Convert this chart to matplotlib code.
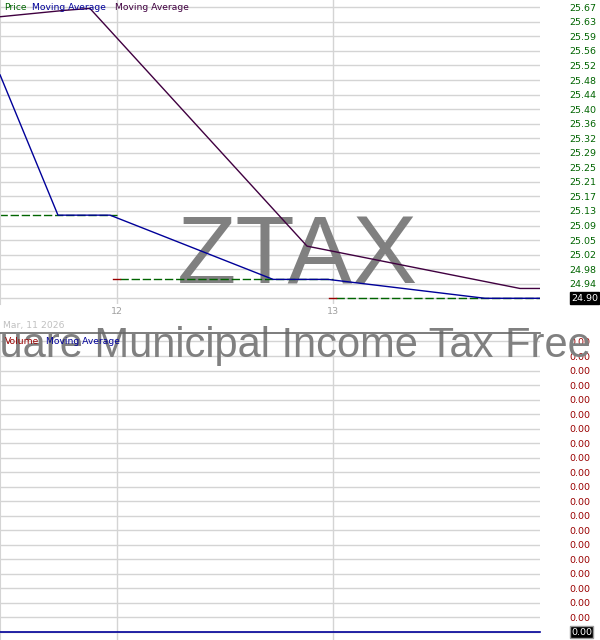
import numpy as np
import matplotlib
matplotlib.use("Agg")
import matplotlib.pyplot as plt
import matplotlib.transforms as mtransforms

# ---- data ----
price_days = [11, 12, 13]
price_close = [25.12, 24.95, 24.90]

ma1_days = [11.461, 11.729, 11.970, 12.725, 12.979, 13.706, 13.961]
ma1_vals = [25.491, 25.120, 25.120, 24.950, 24.950, 24.900, 24.900]

ma2_days = [11.461, 11.762, 11.877, 12.882, 13.868, 13.961]
ma2_vals = [25.645, 25.662, 25.667, 25.038, 24.926, 24.926]

vol_days = [11.461, 12, 13, 13.961]
vol_ma = [0.0, 0.0, 0.0, 0.0]

price_labels = ['24.90', '24.94', '24.98', '25.02', '25.05', '25.09', '25.13',
                '25.17', '25.21', '25.25', '25.29', '25.32', '25.36', '25.40',
                '25.44', '25.48', '25.52', '25.56', '25.59', '25.63', '25.67']
vol_labels = ['0.00'] * 21
day_ticks = [12, 13]
day_labels = ['12', '13']

ticker = 'ZTAX'
fund_name = 'X-Square Municipal Income Tax Free ETF'
date_label = 'Mar, 11 2026'

# ---- colours ----
GRID = '#d4d4d4'
GREEN = '#006400'
DRED = '#990000'
BLUE = '#000099'
PURPLE = '#400040'
WM = '#808080'

W, H = 600, 640
fig = plt.figure(figsize=(6, 6.4), dpi=100)


def fx(px):
    return px / W


def fy(py):
    return 1 - py / H


# price panel: pixels 0..540 wide, 0..304 tall
ax = fig.add_axes([0, fy(304), fx(540), 304 / H])
# volume panel: pixels 333..640
ax2 = fig.add_axes([0, 0, fx(540), 307 / H])

xlo, xhi = 11.4606, 13.9606
for a in (ax, ax2):
    a.set_xlim(xlo, xhi)
    a.set_axisbelow(True)
    for s in a.spines.values():
        s.set_visible(False)
    a.spines['left'].set_visible(True)
    a.spines['left'].set_color(GRID)
    a.set_xticks(day_ticks)
    a.grid(True, color=GRID, lw=1.0)
    a.yaxis.tick_right()
    a.tick_params(length=0)

# price axis
ax.set_ylim(24.8849, 25.6893)
ax.set_yticks(np.linspace(24.90, 25.67, 21))
ax.set_yticklabels(price_labels)
ax.tick_params(axis='y', colors=GREEN, labelsize=6.8, pad=21)
ax.set_xticklabels(day_labels)
ax.tick_params(axis='x', colors='#a0a0a0', labelsize=6.8, pad=2)

# price: red tick at day start, green dashed through the day
tw = 0.016
for d, c in zip(price_days, price_close):
    ax.plot([d + tw, d + 1], [c, c], color=GREEN, lw=1.0, ls=(0, (6, 2)), zorder=2)
    ax.plot([d - tw, d + tw], [c, c], color=DRED, lw=1.0, zorder=2)

ax.plot(ma1_days, ma1_vals, color=BLUE, lw=1.0, zorder=3)
ax.plot(ma2_days, ma2_vals, color=PURPLE, lw=1.0, zorder=3)

# watermark ticker
ax.text(297.5 / 540, 1 - 283 / 304, ticker, transform=ax.transAxes,
        ha='center', va='baseline', fontsize=70, color=WM,
        family='Liberation Sans', zorder=1.5)

# legend text
lx = ax.transAxes
ax.text(4 / 540, 1 - 9.5 / 304, 'Price', color=GREEN, fontsize=6.6,
        transform=lx, va='baseline', zorder=4)
ax.text(32.5 / 540, 1 - 9.5 / 304, 'Moving Average', color=BLUE, fontsize=6.6,
        transform=lx, va='baseline', zorder=4)
ax.text(115 / 540, 1 - 9.5 / 304, 'Moving Average', color=PURPLE, fontsize=6.6,
        transform=lx, va='baseline', zorder=4)

# last price box
trans = mtransforms.blended_transform_factory(ax.transAxes, ax.transData)
ax.text(571 / 540, price_close[-1], price_labels[0], transform=trans,
        ha='left', va='center', fontsize=6.8, color='white', clip_on=False,
        bbox=dict(boxstyle='square,pad=0.15', fc='black', ec='black'), zorder=5)

# volume axis
ax2.set_ylim(-0.00011, 0.004117)
ax2.set_yticks(np.linspace(0, 0.004, 21))
ax2.set_yticklabels(vol_labels)
ax2.tick_params(axis='y', colors=DRED, labelsize=6.8, pad=21)
ax2.set_xticklabels([])
ax2.spines['top'].set_visible(True)
ax2.spines['top'].set_color('#666666')
ax2.spines['top'].set_linewidth(1.2)

ax2.plot(vol_days, vol_ma, color=BLUE, lw=1.2, zorder=3, clip_on=False)

trans2 = mtransforms.blended_transform_factory(ax2.transAxes, ax2.transData)
ax2.text(571 / 540, vol_ma[-1], vol_labels[0], transform=trans2,
         ha='left', va='center', fontsize=6.8, color='white', clip_on=False,
         bbox=dict(boxstyle='square,pad=0.15', fc='black', ec='#999999'), zorder=5)

# fund name watermark, across the panel top
ax2.text(294 / 540, 1 - (357 - 333) / 307, fund_name, transform=ax2.transAxes,
         ha='center', va='baseline', fontsize=30, color=WM,
         family='Liberation Sans', zorder=1.5, clip_on=False)

ax2.text(5 / 540, 1 - (344.5 - 333) / 307, 'Volume', color=DRED, fontsize=6.6,
         transform=ax2.transAxes, va='baseline', zorder=4)
ax2.text(45.5 / 540, 1 - (344.5 - 333) / 307, 'Moving Average', color=BLUE,
         fontsize=6.6, transform=ax2.transAxes, va='baseline', zorder=4)

fig.text(fx(3), fy(328), date_label, color='#c0c0c0', fontsize=6.7, va='baseline')

fig.savefig('out.png', dpi=100)
